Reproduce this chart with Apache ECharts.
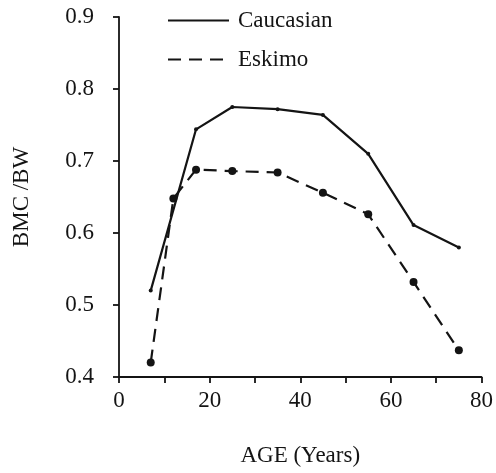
<!DOCTYPE html>
<html>
<head>
<meta charset="utf-8">
<script src="https://cdn.jsdelivr.net/npm/echarts@6/dist/echarts.min.js"></script>
<style>
  html, body { margin: 0; padding: 0; background: #fff; }
  #chart { width: 496px; height: 473px; }
</style>
</head>
<body>
<div id="chart"></div>
<script>
// Bone mineral content per body weight by age
const ages = [7, 12, 17, 25, 35, 45, 55, 65, 75];
const caucasian = [0.52, null, 0.744, 0.775, 0.772, 0.764, 0.710, 0.611, 0.580];
const eskimo = [0.42, 0.648, 0.688, 0.686, 0.684, 0.656, 0.626, 0.532, 0.437];
const xTickLabels = [0, 20, 40, 60, 80];
const yTickLabels = [0.4, 0.5, 0.6, 0.7, 0.8, 0.9];

const pairs = (vals) => ages.map((a, i) => [a, vals[i]]).filter(p => p[1] !== null);

const ink = '#141414';
const serif = '"Liberation Serif", "DejaVu Serif", serif';

const chart = echarts.init(document.getElementById('chart'));
chart.setOption({
  animation: false,
  backgroundColor: '#fff',
  grid: { left: 119, top: 17, right: 13, bottom: 96 },
  legend: {
    left: 162, top: 4, orient: 'vertical', itemGap: 16,
    itemWidth: 61, itemHeight: 14,
    textStyle: { fontFamily: serif, fontSize: 23, color: ink, padding: [0, 0, 0, 4] },
    itemStyle: { opacity: 0 },
    data: ['Caucasian', 'Eskimo']
  },
  xAxis: {
    type: 'value', min: 0, max: 80, interval: 10,
    name: 'AGE (Years)', nameLocation: 'middle', nameGap: 67,
    nameTextStyle: { fontFamily: serif, fontSize: 23, color: ink },
    axisLine: { lineStyle: { color: ink, width: 1.8 } },
    axisTick: { length: 6, lineStyle: { color: ink, width: 1.8 } },
    axisLabel: {
      fontFamily: serif, fontSize: 23, color: ink, margin: 12,
      formatter: v => xTickLabels.includes(v) ? String(v) : ''
    },
    splitLine: { show: false }
  },
  yAxis: {
    type: 'value', min: 0.4, max: 0.9, interval: 0.1,
    name: 'BMC /BW', nameLocation: 'middle', nameGap: 86,
    nameTextStyle: { fontFamily: serif, fontSize: 23, color: ink },
    axisLine: { show: true, lineStyle: { color: ink, width: 1.8 } },
    axisTick: { show: true, length: 6, lineStyle: { color: ink, width: 1.8 } },
    axisLabel: {
      fontFamily: serif, fontSize: 23, color: ink, margin: 25,
      formatter: v => yTickLabels.find(t => Math.abs(t - v) < 1e-9).toFixed(1)
    },
    splitLine: { show: false }
  },
  series: [
    {
      name: 'Caucasian', type: 'line', data: pairs(caucasian),
      symbol: 'circle', symbolSize: 4,
      lineStyle: { color: ink, width: 2.2 },
      itemStyle: { color: ink }
    },
    {
      name: 'Eskimo', type: 'line', data: pairs(eskimo),
      symbol: 'circle', symbolSize: 8,
      lineStyle: { color: ink, width: 2.2, type: [13, 8] },
      itemStyle: { color: ink }
    }
  ]
});
</script>
</body>
</html>
